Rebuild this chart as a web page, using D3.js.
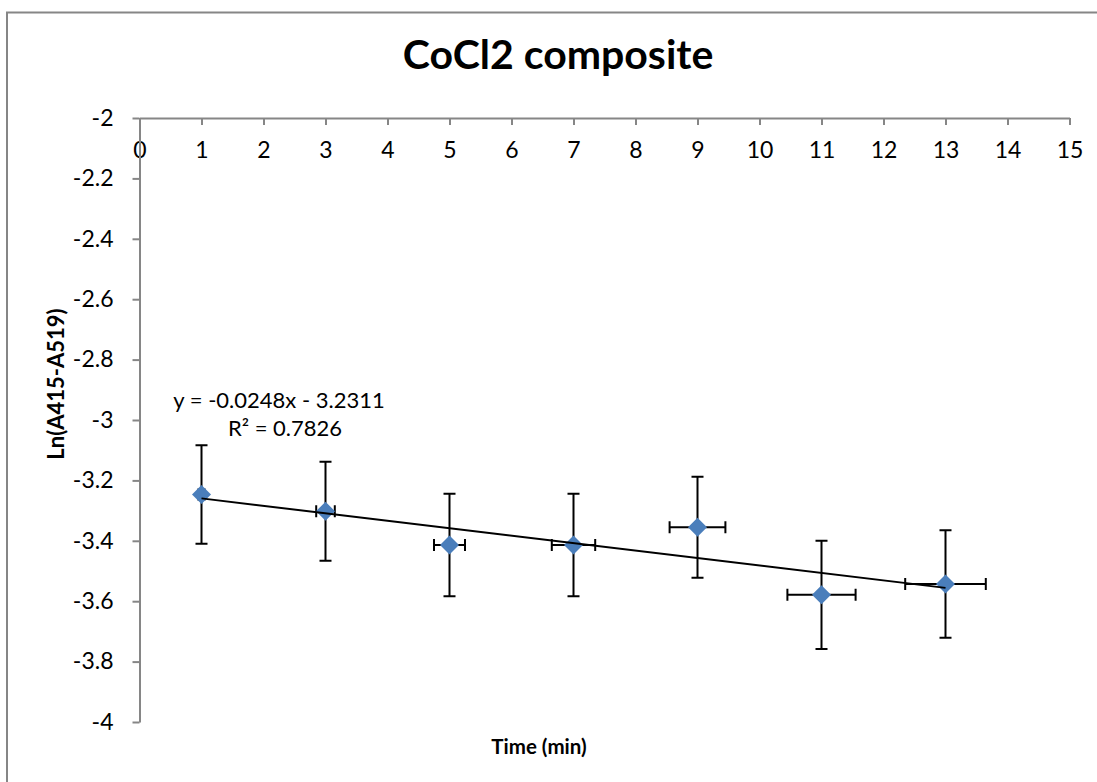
<!DOCTYPE html>
<html>
<head>
<meta charset="utf-8">
<script src="https://cdn.jsdelivr.net/npm/d3@7"></script>
<style>
  html, body { margin: 0; padding: 0; background: #fff; }
  svg { display: block; font-family: Lato, "Open Sans", sans-serif; }
</style>
</head>
<body>
<div id="chart"></div>
<script>
const width = 1097;
const height = 782;

// time points (min) and Ln(A415-A519) readings
const times = [1, 3, 5, 7, 9, 11, 13];
const lnValues = [-3.247, -3.302, -3.414, -3.414, -3.355, -3.579, -3.543];
const yErrors = [0.163, 0.164, 0.170, 0.170, 0.167, 0.179, 0.178];
const xErrors = [0.05, 0.15, 0.25, 0.35, 0.45, 0.55, 0.65];

const xTickValues = [0, 1, 2, 3, 4, 5, 6, 7, 8, 9, 10, 11, 12, 13, 14, 15];
const yTickValues = [-2, -2.2, -2.4, -2.6, -2.8, -3, -3.2, -3.4, -3.6, -3.8, -4];

const titleText = "CoCl2 composite";
const equationText = "y = -0.0248x - 3.2311";
const rSquaredText = "R² = 0.7826";

const axisColor = "#868686";
const markerColor = "#4a7ebb";

const data = times.map((t, i) => ({ x: t, y: lnValues[i], ex: xErrors[i], ey: yErrors[i] }));

const x = d3.scaleLinear().domain([0, 15]).range([139.5, 1069.5]);
const y = d3.scaleLinear().domain([-2, -4]).range([118, 722]);

const svg = d3.select("#chart").append("svg")
    .attr("width", width)
    .attr("height", height);

// chart frame (only top and left visible)
svg.append("path")
    .attr("d", `M7,782 V12.5 H1097`)
    .attr("fill", "none")
    .attr("stroke", axisColor)
    .attr("stroke-width", 2);

svg.append("text")
    .attr("x", 558)
    .attr("y", 69)
    .attr("text-anchor", "middle")
    .style("font-weight", "bold")
    .style("font-size", "41px")
    .text(titleText);

// axes
const xAxis = svg.append("g")
    .attr("transform", `translate(0,${y(-2)})`)
    .call(d3.axisBottom(x).tickValues(xTickValues).tickSize(7).tickSizeOuter(0).tickPadding(17).tickFormat(d3.format("d")));

const yAxis = svg.append("g")
    .attr("transform", `translate(${x(0)},0)`)
    .call(d3.axisLeft(y).tickValues(yTickValues).tickSize(7).tickSizeOuter(0).tickPadding(19));

[xAxis, yAxis].forEach(g => {
    g.select(".domain").attr("stroke", axisColor).attr("stroke-width", 2);
    g.selectAll(".tick line").attr("stroke", axisColor).attr("stroke-width", 2);
    g.selectAll(".tick text")
        .attr("fill", "#000")
        .style("font-family", "Lato, sans-serif")
        .style("font-size", "23px");
});
yAxis.selectAll(".tick text").text(d => String(d));

svg.append("text")
    .attr("transform", `translate(64,384) rotate(-90)`)
    .attr("text-anchor", "middle")
    .style("font-weight", "bold")
    .style("font-size", "22px")
    .text("Ln(A415-A519)");

svg.append("text")
    .attr("x", 539)
    .attr("y", 754)
    .attr("text-anchor", "middle")
    .style("font-weight", "bold")
    .style("font-size", "20.5px")
    .text("Time (min)");

// error bars
const cap = 6;
const errGroup = svg.append("g")
    .attr("stroke", "#000")
    .attr("stroke-width", 2)
    .attr("fill", "none");

errGroup.selectAll("path.ey")
    .data(data)
    .join("path")
    .attr("class", "ey")
    .attr("d", d => {
        const cx = x(d.x), top = y(d.y + d.ey), bot = y(d.y - d.ey);
        return `M${cx},${top}V${bot}M${cx - cap},${top}H${cx + cap}M${cx - cap},${bot}H${cx + cap}`;
    });

errGroup.selectAll("path.ex")
    .data(data)
    .join("path")
    .attr("class", "ex")
    .attr("d", d => {
        const cy = y(d.y), l = x(d.x - d.ex), r = x(d.x + d.ex);
        return `M${l},${cy}H${r}M${l},${cy - cap}V${cy + cap}M${r},${cy - cap}V${cy + cap}`;
    });

// markers
svg.append("g").selectAll("path")
    .data(data)
    .join("path")
    .attr("transform", d => `translate(${x(d.x)},${y(d.y)}) rotate(45)`)
    .attr("d", d3.symbol(d3.symbolSquare, 180))
    .attr("fill", markerColor);

// linear trendline from least squares fit
const xMean = d3.mean(data, d => d.x);
const yMean = d3.mean(data, d => d.y);
const slope = d3.sum(data, d => (d.x - xMean) * (d.y - yMean)) / d3.sum(data, d => (d.x - xMean) ** 2);
const intercept = yMean - slope * xMean;
const xExtent = d3.extent(times);

svg.append("line")
    .attr("x1", x(xExtent[0]))
    .attr("y1", y(intercept + slope * xExtent[0]))
    .attr("x2", x(xExtent[1]))
    .attr("y2", y(intercept + slope * xExtent[1]))
    .attr("stroke", "#000")
    .attr("stroke-width", 2);

const eq = svg.append("text")
    .attr("text-anchor", "middle")
    .style("font-size", "22px");
eq.append("tspan").attr("x", 279).attr("y", 408).text(equationText);
eq.append("tspan").attr("x", 285).attr("y", 436).text(rSquaredText);
</script>
</body>
</html>
